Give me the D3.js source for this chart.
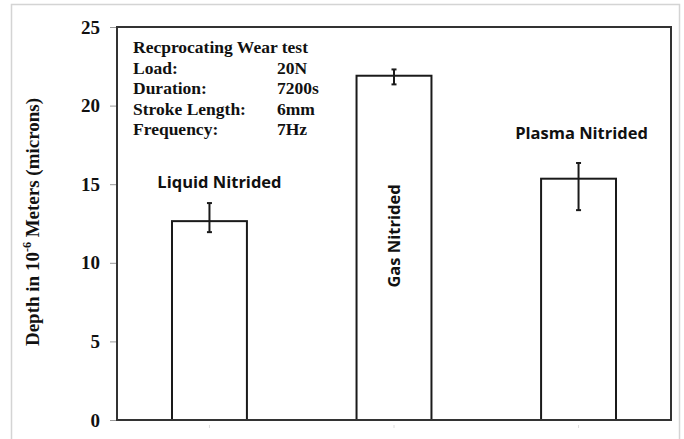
<!DOCTYPE html>
<html>
<head>
<meta charset="utf-8">
<script src="https://cdn.jsdelivr.net/npm/d3@7"></script>
<style>
  html, body { margin: 0; padding: 0; background: #fff; }
  svg { display: block; }
</style>
</head>
<body>
<svg id="chart" width="684" height="439"></svg>
<script>
// Wear depth by nitriding process
const categories = ["Liquid Nitrided", "Gas Nitrided", "Plasma Nitrided"];
const depth = [12.65, 21.9, 15.35];
const errLow = [11.95, 21.35, 13.35];
const errHigh = [13.8, 22.3, 16.35];
const yTicks = [0, 5, 10, 15, 20, 25];
const testInfo = [
  ["Load:", "20N"],
  ["Duration:", "7200s"],
  ["Stroke Length:", "6mm"],
  ["Frequency:", "7Hz"]
];

const svg = d3.select("#chart");
const m = { left: 117, right: 671, top: 27, bottom: 420 };

// outer light frame
svg.append("rect")
  .attr("x", 11.5).attr("y", 4.5)
  .attr("width", 668).attr("height", 440)
  .attr("fill", "#fff").attr("stroke", "#d4d4d4").attr("stroke-width", 1.5);

const x = d3.scaleBand()
  .domain(categories)
  .range([m.left, m.right])
  .paddingInner(0.594)
  .paddingOuter(0.298);

const y = d3.scaleLinear().domain([0, 25]).range([m.bottom, m.top]);

const serif = "'Liberation Serif', 'Times New Roman', serif";

// y axis
const yAxis = svg.append("g")
  .attr("transform", `translate(${m.left},0)`)
  .call(d3.axisLeft(y).tickValues(yTicks).tickSize(7).tickPadding(10).tickFormat(d3.format("d")));
yAxis.select(".domain").remove();
yAxis.selectAll(".tick line").attr("stroke", "#999").attr("stroke-width", 1);
yAxis.selectAll(".tick text")
  .attr("font-family", serif)
  .attr("font-weight", "bold").attr("font-size", 19).attr("fill", "#111");

// x axis category ticks (faint)
const xAxis = svg.append("g")
  .attr("transform", `translate(0,${m.bottom})`)
  .call(d3.axisBottom(x).tickSize(5).tickFormat(""));
xAxis.select(".domain").remove();
xAxis.selectAll(".tick line").attr("stroke", "#ddd").attr("stroke-width", 1)
  .attr("y1", 5).attr("y2", 8);

// bars
svg.append("g").selectAll("rect")
  .data(categories)
  .join("rect")
  .attr("x", d => x(d))
  .attr("y", (d, i) => y(depth[i]))
  .attr("width", x.bandwidth())
  .attr("height", (d, i) => y(0) - y(depth[i]))
  .attr("fill", "#fff")
  .attr("stroke", "#1a1a1a")
  .attr("stroke-width", 2);

// error bars
const eb = svg.append("g").attr("stroke", "#1a1a1a").attr("stroke-width", 2);
categories.forEach((c, i) => {
  const cx = x(c) + x.bandwidth() / 2;
  eb.append("line").attr("x1", cx).attr("x2", cx)
    .attr("y1", y(errLow[i])).attr("y2", y(errHigh[i]));
  [errLow[i], errHigh[i]].forEach(v => {
    eb.append("line").attr("x1", cx - 2.5).attr("x2", cx + 2.5)
      .attr("y1", y(v)).attr("y2", y(v));
  });
});

// plot frame
svg.append("rect")
  .attr("x", m.left).attr("y", m.top)
  .attr("width", m.right - m.left).attr("height", m.bottom - m.top)
  .attr("fill", "none").attr("stroke", "#333").attr("stroke-width", 2);

// category labels
const labFont = "'Open Sans', 'Noto Sans', sans-serif";
const labSize = 16.5;
svg.append("text")
  .attr("x", x(categories[0]) + x.bandwidth() / 2 + 10).attr("y", 188)
  .attr("text-anchor", "middle")
  .attr("font-family", labFont).attr("font-weight", "bold").attr("font-size", labSize)
  .attr("fill", "#111").text(categories[0]);
svg.append("text")
  .attr("transform", `translate(${x(categories[1]) + x.bandwidth() / 2 + 6},236) rotate(-90)`)
  .attr("text-anchor", "middle")
  .attr("font-family", labFont).attr("font-weight", "bold").attr("font-size", labSize)
  .attr("fill", "#111").text(categories[1]);
svg.append("text")
  .attr("x", x(categories[2]) + x.bandwidth() / 2 + 3).attr("y", 139)
  .attr("text-anchor", "middle")
  .attr("font-family", labFont).attr("font-weight", "bold").attr("font-size", labSize)
  .attr("fill", "#111").text(categories[2]);

// test conditions block
const info = svg.append("g")
  .attr("font-family", serif).attr("font-weight", "bold").attr("font-size", 17.5).attr("fill", "#111");
info.append("text").attr("x", 133).attr("y", 53).text("Recprocating Wear test");
testInfo.forEach((r, i) => {
  info.append("text").attr("x", 133).attr("y", 74 + i * 20.3).text(r[0]);
  info.append("text").attr("x", 277).attr("y", 74 + i * 20.3).text(r[1]);
});

// y axis title
const yt = svg.append("text")
  .attr("transform", "translate(39,222) rotate(-90)")
  .attr("text-anchor", "middle")
  .attr("font-family", serif).attr("font-weight", "bold").attr("font-size", 19).attr("fill", "#111");
yt.append("tspan").text("Depth in 10");
yt.append("tspan").attr("dy", -8).attr("font-size", 12).text("-6");
yt.append("tspan").attr("dy", 8).text(" Meters (microns)");
</script>
</body>
</html>
